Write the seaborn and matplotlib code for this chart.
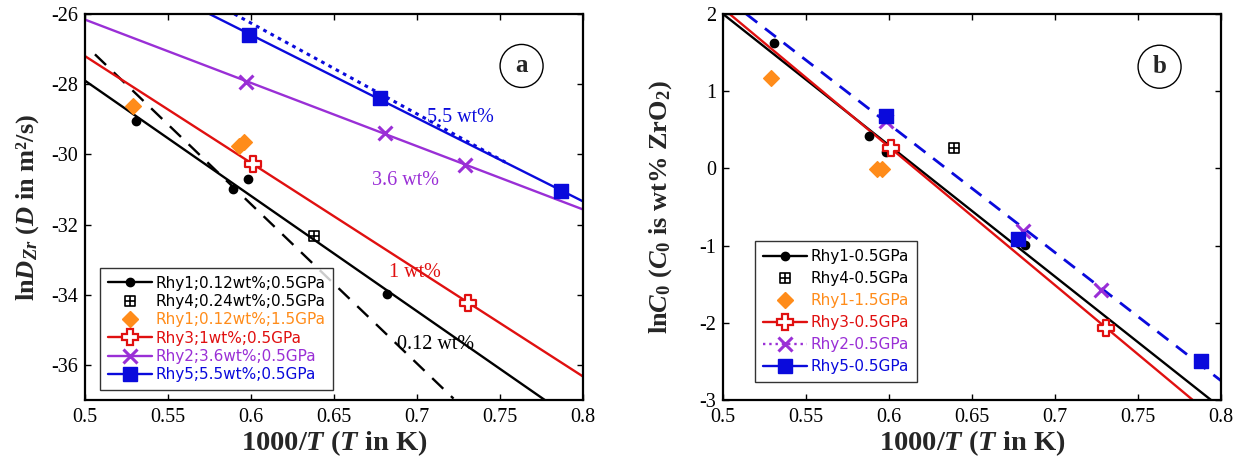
import numpy as np
import pandas as pd
import matplotlib
matplotlib.use("Agg")
import matplotlib.pyplot as plt
from matplotlib.lines import Line2D
from matplotlib.path import Path
import seaborn as sns

# ---------------- data ----------------
# Panel a: ln D_Zr vs 1000/T
a_rhy1_x = [0.531, 0.589, 0.598, 0.682]
a_rhy1_y = [-29.06, -30.98, -30.69, -33.99]
a_rhy4_x = [0.638]
a_rhy4_y = [-32.33]
a_rhy1hp_x = [0.529, 0.593, 0.596]
a_rhy1hp_y = [-28.61, -29.75, -29.64]
a_rhy3_x = [0.601, 0.731]
a_rhy3_y = [-30.28, -34.23]
a_rhy2_x = [0.597, 0.681, 0.729]
a_rhy2_y = [-27.94, -29.40, -30.31]
a_rhy5_x = [0.599, 0.678, 0.787]
a_rhy5_y = [-26.59, -28.39, -31.05]

# Panel a fit lines (end points)
a_fit_black_x = [0.5, 0.777]
a_fit_black_y = [-27.9, -37.0]
a_fit_blackdash_x = [0.506, 0.722]
a_fit_blackdash_y = [-27.15, -36.96]
a_fit_red_x = [0.5, 0.8]
a_fit_red_y = [-27.2, -36.33]
a_fit_purple_x = [0.5, 0.8]
a_fit_purple_y = [-26.16, -31.57]
a_fit_blue_x = [0.575, 0.8]
a_fit_blue_y = [-26.0, -31.34]
a_fit_bluedot_x = [0.590, 0.755]
a_fit_bluedot_y = [-26.0, -30.27]

a_labels = ["Rhy1;0.12wt%;0.5GPa", "Rhy4;0.24wt%;0.5GPa", "Rhy1;0.12wt%;1.5GPa",
            "Rhy3;1wt%;0.5GPa", "Rhy2;3.6wt%;0.5GPa", "Rhy5;5.5wt%;0.5GPa"]
a_notes = ["5.5 wt%", "3.6 wt%", "1 wt%", "0.12 wt%"]
a_notes_x = [0.706, 0.673, 0.683, 0.688]
a_notes_y = [-28.94, -30.74, -33.37, -35.43]

# Panel b: ln C0 vs 1000/T
b_rhy1_x = [0.531, 0.588, 0.598, 0.682]
b_rhy1_y = [1.63, 0.424, 0.212, -0.995]
b_rhy4_x = [0.639]
b_rhy4_y = [0.26]
b_rhy1hp_x = [0.529, 0.593, 0.596]
b_rhy1hp_y = [1.17, -0.005, -0.005]
b_rhy3_x = [0.601, 0.731]
b_rhy3_y = [0.27, -2.07]
b_rhy2_x = [0.598, 0.681, 0.728]
b_rhy2_y = [0.61, -0.81, -1.57]
b_rhy5_x = [0.598, 0.678, 0.788]
b_rhy5_y = [0.685, -0.91, -2.50]

b_fit_black_x = [0.5, 0.794]
b_fit_black_y = [2.0, -3.0]
b_fit_red_x = [0.504, 0.783]
b_fit_red_y = [2.0, -3.0]
b_fit_blue_x = [0.514, 0.8]
b_fit_blue_y = [2.0, -2.75]

b_labels = ["Rhy1-0.5GPa", "Rhy4-0.5GPa", "Rhy1-1.5GPa",
            "Rhy3-0.5GPa", "Rhy2-0.5GPa", "Rhy5-0.5GPa"]

x_ticks = [0.5, 0.55, 0.6, 0.65, 0.7, 0.75, 0.8]
x_ticklabels = ["0.5", "0.55", "0.6", "0.65", "0.7", "0.75", "0.8"]
a_yticks = [-36, -34, -32, -30, -28, -26]
b_yticks = [-3, -2, -1, 0, 1, 2]

# ---------------- style ----------------
sns.set_style("white")
plt.rcParams.update({
    "font.family": ["Liberation Serif", "DejaVu Serif"],
    "mathtext.fontset": "custom",
    "mathtext.rm": "Liberation Serif",
    "mathtext.it": "Liberation Serif:italic",
    "mathtext.bf": "Liberation Serif:bold",
    "mathtext.bfit": "Liberation Serif:bold:italic",
    "axes.unicode_minus": False,
    "xtick.direction": "in", "ytick.direction": "in",
    "xtick.top": True, "ytick.right": True,
    "xtick.bottom": True, "ytick.left": True,
    "xtick.major.size": 4.5, "ytick.major.size": 4.5,
    "xtick.major.width": 1.0, "ytick.major.width": 1.0,
    "xtick.major.pad": 6, "ytick.major.pad": 5,
})

BLACK = "#000000"
ORANGE = "#FF8C1A"
RED = "#E01010"
PURPLE = "#9A2FD6"
BLUE = "#0A0ADC"

# custom marker: square with cross inside
sq_plus = Path(
    [(-1, -1), (1, -1), (1, 1), (-1, 1), (-1, -1), (0, -1), (0, 1), (-1, 0), (1, 0)],
    [Path.MOVETO, Path.LINETO, Path.LINETO, Path.LINETO, Path.CLOSEPOLY,
     Path.MOVETO, Path.LINETO, Path.MOVETO, Path.LINETO])

fig = plt.figure(figsize=(12.44, 4.66), dpi=100)
axa = fig.add_axes([85 / 1244, 66 / 466, 498 / 1244, 386 / 466])
axb = fig.add_axes([723 / 1244, 66 / 466, 498 / 1244, 386 / 466])

LW = 1.7


def line(ax, xs, ys, color, ls="-", lw=LW, z=2, dashes=None):
    df = pd.DataFrame({"x": xs, "y": ys})
    sns.lineplot(data=df, x="x", y="y", ax=ax, color=color, lw=lw, zorder=z,
                 estimator=None, sort=False)
    ln = ax.lines[-1]
    ln.set_linestyle(ls)
    if dashes is not None:
        ln.set_dashes(dashes)
    ln.set_solid_capstyle("butt")


def pts(ax, xs, ys, marker, size, fc, ec, lw=1.0, z=4):
    df = pd.DataFrame({"x": xs, "y": ys})
    sns.scatterplot(data=df, x="x", y="y", ax=ax, marker=marker, s=size ** 2,
                    facecolor=fc, edgecolor=ec, linewidth=lw, zorder=z)


# ---------------- panel a ----------------
line(axa, a_fit_black_x, a_fit_black_y, BLACK)
line(axa, a_fit_blackdash_x, a_fit_blackdash_y, BLACK, dashes=(6.5, 4.5))
line(axa, a_fit_red_x, a_fit_red_y, RED)
line(axa, a_fit_purple_x, a_fit_purple_y, PURPLE)
line(axa, a_fit_bluedot_x, a_fit_bluedot_y, BLUE, dashes=(1.2, 1.5), lw=2.2)
line(axa, a_fit_blue_x, a_fit_blue_y, BLUE)

pts(axa, a_rhy1_x, a_rhy1_y, "o", 6, BLACK, BLACK)
pts(axa, a_rhy4_x, a_rhy4_y, sq_plus, 7, "none", BLACK, lw=1.2)
pts(axa, a_rhy1hp_x, a_rhy1hp_y, "D", 8, ORANGE, ORANGE)
pts(axa, a_rhy3_x, a_rhy3_y, "P", 11, "white", RED, lw=1.6)
pts(axa, a_rhy2_x, a_rhy2_y, "x", 10, PURPLE, PURPLE, lw=2.2)
pts(axa, a_rhy5_x, a_rhy5_y, "s", 10, BLUE, BLUE)

note_cols = [BLUE, PURPLE, RED, BLACK]
for t, x, y, c in zip(a_notes, a_notes_x, a_notes_y, note_cols):
    axa.text(x, y, t, color=c, fontsize=14.5, ha="left", va="center",
             family="Liberation Serif", zorder=6)

# ---------------- panel b ----------------
line(axb, b_fit_black_x, b_fit_black_y, BLACK)
line(axb, b_fit_red_x, b_fit_red_y, RED)
line(axb, b_fit_blue_x, b_fit_blue_y, BLUE, dashes=(5.0, 3.5), lw=2.0)

pts(axb, b_rhy1_x, b_rhy1_y, "o", 6, BLACK, BLACK)
pts(axb, b_rhy4_x, b_rhy4_y, sq_plus, 7, "none", BLACK, lw=1.2)
pts(axb, b_rhy1hp_x, b_rhy1hp_y, "D", 8, ORANGE, ORANGE)
pts(axb, b_rhy3_x, b_rhy3_y, "P", 11, "white", RED, lw=1.6)
pts(axb, b_rhy2_x, b_rhy2_y, "x", 10, PURPLE, PURPLE, lw=2.2)
pts(axb, b_rhy5_x, b_rhy5_y, "s", 10, BLUE, BLUE)

# ---------------- axes formatting ----------------
for ax in (axa, axb):
    ax.set_xlim(0.5, 0.8)
    ax.set_xticks(x_ticks)
    ax.set_xticklabels(x_ticklabels)
    ax.tick_params(labelsize=14.5, colors="black")
    for s in ax.spines.values():
        s.set_linewidth(1.6)
        s.set_color("black")
        s.set_visible(True)
    ax.set_xlabel("1000/$\\mathbfit{T}$ ($\\mathbfit{T}$ in K)", fontsize=20.5,
                  fontweight="bold", labelpad=1)

axa.set_ylim(-37, -26)
axa.set_yticks(a_yticks)
axa.set_yticklabels([str(v) for v in a_yticks])
axa.set_ylabel("ln$\\mathbfit{D}_{\\mathbfit{Zr}}$ ($\\mathbfit{D}$ in m\u00b2/s)",
               fontsize=19, fontweight="bold", labelpad=7)

axb.set_ylim(-3, 2)
axb.set_yticks(b_yticks)
axb.set_yticklabels([str(v) for v in b_yticks])
axb.set_ylabel("ln$\\mathbfit{C}_{\\mathbf{0}}$ ($\\mathbfit{C}_{\\mathbf{0}}$ is wt% Zr$\\mathbf{O}_{\\mathbf{2}}$)",
               fontsize=19, fontweight="bold", labelpad=18)

# circled panel letters
for ax, letter, y in ((axa, "a", -27.48), (axb, "b", 1.317)):
    ax.text(0.763, y, letter, fontsize=18, fontweight="bold", ha="center", va="center",
            family="Liberation Serif", zorder=7,
            bbox=dict(boxstyle="circle,pad=0.4", fc="white", ec="black", lw=1.0))

# ---------------- legends ----------------
def handles(with_dotted_rhy2=False):
    return [
        Line2D([], [], color=BLACK, lw=LW, marker="o", ms=6),
        Line2D([], [], color=BLACK, ls="none", marker=sq_plus, ms=7, mfc="none", mew=1.2),
        Line2D([], [], color=ORANGE, ls="none", marker="D", ms=8),
        Line2D([], [], color=RED, lw=LW, marker="P", ms=11, mfc="white", mec=RED, mew=1.6),
        Line2D([], [], color=PURPLE, lw=LW, ls=":" if with_dotted_rhy2 else "-", marker="x", ms=10, mew=2.2),
        Line2D([], [], color=BLUE, lw=LW, marker="s", ms=10),
    ]


text_cols = [BLACK, BLACK, ORANGE, RED, PURPLE, BLUE]
for ax, labs, anchor, dotted, sp in ((axa, a_labels, (0.031, 0.026), False, 0.22),
                                     (axb, b_labels, (0.065, 0.047), True, 0.46)):
    leg = ax.legend(handles(dotted), labs, loc="lower left", bbox_to_anchor=anchor,
                    borderaxespad=0, frameon=True, fancybox=False, numpoints=1,
                    prop={"family": "DejaVu Sans", "size": 11}, handlelength=2.9,
                    handletextpad=0.2, labelspacing=sp, borderpad=0.5)
    leg.get_frame().set_edgecolor("black")
    leg.get_frame().set_linewidth(1.0)
    leg.set_zorder(8)
    for t, c in zip(leg.get_texts(), text_cols):
        t.set_color(c)

fig.savefig("out.png", dpi=100)
